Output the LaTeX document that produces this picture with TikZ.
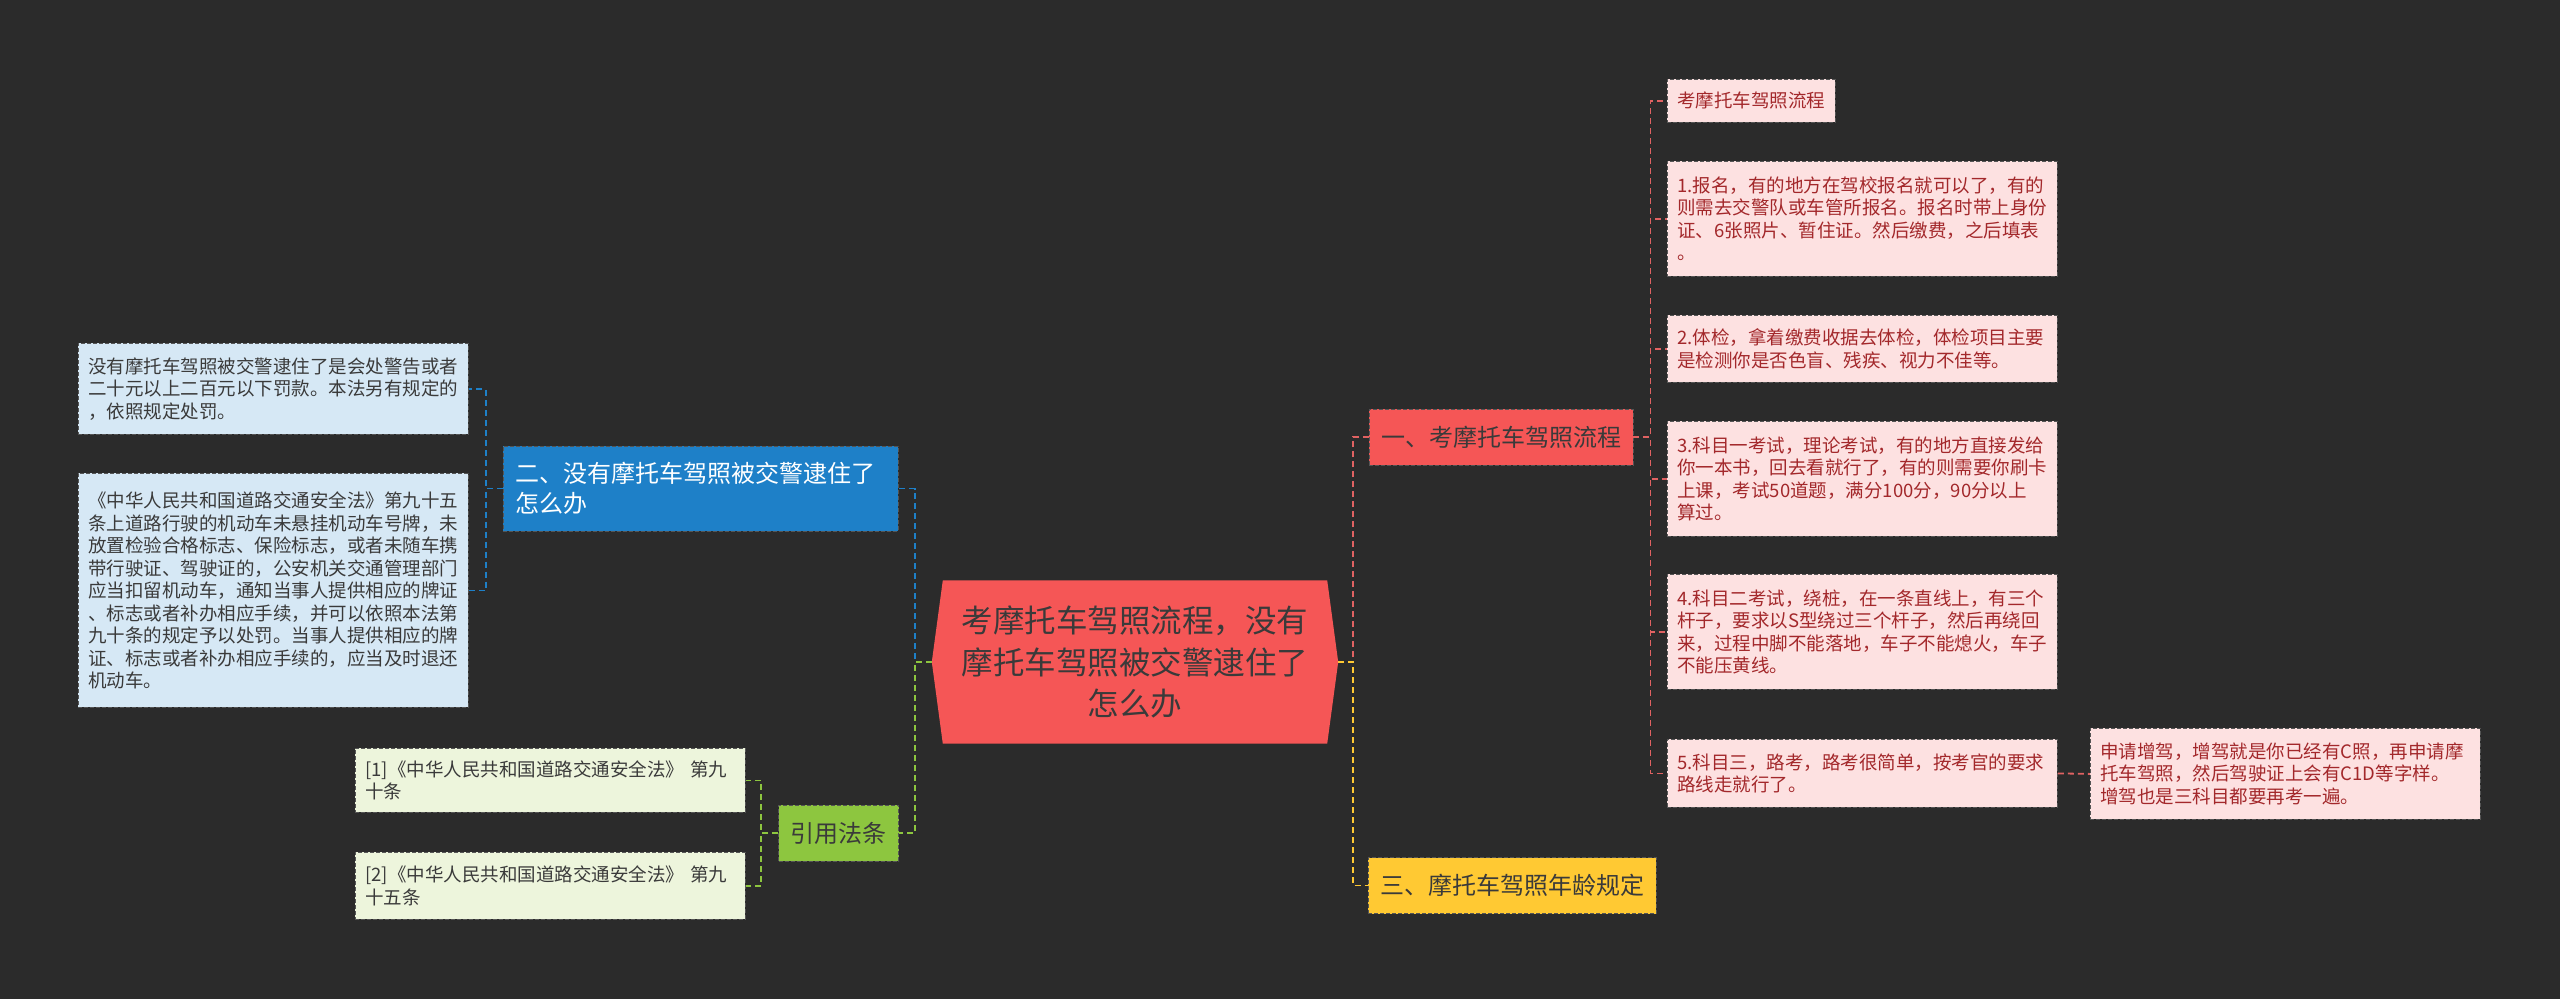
\documentclass[tikz,border=0pt]{standalone}
\usepackage{fontspec}
\usepackage{xcolor}
\usepackage{tikz}
\usetikzlibrary{positioning, backgrounds, calc}
\newfontfamily\cjk{Noto Sans CJK SC}
\definecolor{bggray}{HTML}{2B2B2B}
\definecolor{rootred}{HTML}{F55656}
\definecolor{darktext}{HTML}{3A3A3A}
\definecolor{topicblue}{HTML}{1E80C8}
\definecolor{topicyellow}{HTML}{FFC933}
\definecolor{topicgreen}{HTML}{8DC63F}
\definecolor{linered}{HTML}{E06262}
\definecolor{pinkfill}{HTML}{FDE1E1}
\definecolor{pinktext}{HTML}{A3282B}
\definecolor{bluefill}{HTML}{D6E8F5}
\definecolor{greenfill}{HTML}{EDF5DC}
\definecolor{boxline}{HTML}{555555}

\tikzset{
  box/.style={draw=boxline, dash pattern=on 4pt off 2pt, line width=0.8pt,
              inner xsep=10pt, inner ysep=6pt},
  root/.style={align=center, text width=350pt, inner xsep=28pt, minimum height=163pt,
               text=darktext, font=\cjk\fontsize{31.5}{41.5}\selectfont},
  topic/.style={box, inner xsep=12pt, minimum height=56pt, text=darktext,
                font=\cjk\fontsize{24}{30}\selectfont},
  leaf/.style={box, anchor=north west, align=left, text width=370pt,
               font=\cjk\fontsize{18.5}{22.5}\selectfont},
  pinkleaf/.style={leaf, fill=pinkfill, text=pinktext},
  blueleaf/.style={leaf, fill=bluefill, text=darktext},
  greenleaf/.style={leaf, fill=greenfill, text=darktext},
  link/.style={line width=1.8pt, dash pattern=on 6pt off 4pt},
}

\begin{document}
\begin{tikzpicture}[x=1pt, y=-1pt]
  \begin{scope}[on background layer]
    \fill[bggray] (0,0) rectangle (2560,999);
  \end{scope}
  \useasboundingbox (0,0) rectangle (2560,999);

  % centre
  \node[root] (root) at (1135,662) {考摩托车驾照流程，没有\\摩托车驾照被交警逮住了\\怎么办};
  \begin{scope}[on background layer]
    \fill[rootred] (root.west) -- ([xshift=11pt]root.north west) -- ([xshift=-11pt]root.north east)
      -- (root.east) -- ([xshift=-11pt]root.south east) -- ([xshift=11pt]root.south west) -- cycle;
  \end{scope}

  % main topics
  \node[topic, fill=rootred] (liucheng) at (1501,437) {一、考摩托车驾照流程};
  \node[topic, fill=topicyellow] (nianling) at (1512,885.5) {三、摩托车驾照年龄规定};
  \node[topic, fill=topicblue, text=white, align=left, text width=371pt, minimum height=85pt]
    (daibu) at (700.5,488.5) {二、没有摩托车驾照被交警逮住了\\怎么办};
  \node[topic, fill=topicgreen] (fatiao) at (838.5,833) {引用法条};

  % right leaves
  \node[pinkleaf, text width=148pt, minimum height=43pt] (r0) at (1667,79) {考摩托车驾照流程};
  \node[pinkleaf, minimum height=115pt] (r1) at (1667,161)
    {1.报名，有的地方在驾校报名就可以了，有的\\则需去交警队或车管所报名。报名时带上身份\\证、6张照片、暂住证。然后缴费，之后填表\\。};
  \node[pinkleaf, minimum height=67pt] (r2) at (1667,315)
    {2.体检，拿着缴费收据去体检，体检项目主要\\是检测你是否色盲、残疾、视力不佳等。};
  \node[pinkleaf, minimum height=115pt] (r3) at (1667,421)
    {3.科目一考试，理论考试，有的地方直接发给\\你一本书，回去看就行了，有的则需要你刷卡\\上课，考试50道题，满分100分，90分以上\\算过。};
  \node[pinkleaf, minimum height=115pt] (r4) at (1667,574)
    {4.科目二考试，绕桩，在一条直线上，有三个\\杆子，要求以S型绕过三个杆子，然后再绕回\\来，过程中脚不能落地，车子不能熄火，车子\\不能压黄线。};
  \node[pinkleaf, minimum height=68pt] (r5) at (1667,739)
    {5.科目三，路考，路考很简单，按考官的要求\\路线走就行了。};
  \node[pinkleaf, minimum height=91pt] (zengjia) at (2090,728)
    {申请增驾，增驾就是你已经有C照，再申请摩\\托车驾照，然后驾驶证上会有C1D等字样。\\增驾也是三科目都要再考一遍。};

  % left leaves
  \node[blueleaf, minimum height=91pt] (l1) at (78,343)
    {没有摩托车驾照被交警逮住了是会处警告或者\\二十元以上二百元以下罚款。本法另有规定的\\，依照规定处罚。};
  \node[blueleaf, minimum height=234pt] (l2) at (78,473)
    {《中华人民共和国道路交通安全法》第九十五\\条上道路行驶的机动车未悬挂机动车号牌，未\\放置检验合格标志、保险标志，或者未随车携\\带行驶证、驾驶证的，公安机关交通管理部门\\应当扣留机动车，通知当事人提供相应的牌证\\、标志或者补办相应手续，并可以依照本法第\\九十条的规定予以处罚。当事人提供相应的牌\\证、标志或者补办相应手续的，应当及时退还\\机动车。};
  \node[greenleaf, minimum height=64pt] (ref1) at (355,748)
    {[1]《中华人民共和国道路交通安全法》 第九\\十条};
  \node[greenleaf, minimum height=67pt] (ref2) at (355,852)
    {[2]《中华人民共和国道路交通安全法》 第九\\十五条};

  % connectors
  \draw[link, linered] (root.east) -- ++(15,0) |- (liucheng.west);
  \draw[link, topicyellow] (root.east) -- ++(15,0) |- (nianling.west);
  \draw[link, topicblue] (root.west) -- ++(-17,0) |- (daibu.east);
  \draw[link, topicgreen] (root.west) -- ++(-17,0) |- (fatiao.east);
  \foreach \leaf in {r0, r1, r2, r3, r4, r5}
    \draw[link, linered] (liucheng.east) -- ++(17,0) |- (\leaf.west);
  \draw[link, linered] (r5.east) -- (zengjia.west);
  \foreach \leaf in {l1, l2}
    \draw[link, topicblue] (daibu.west) -- ++(-17,0) |- (\leaf.east);
  \foreach \leaf in {ref1, ref2}
    \draw[link, topicgreen] (fatiao.west) -- ++(-17,0) |- (\leaf.east);
\end{tikzpicture}
\end{document}
